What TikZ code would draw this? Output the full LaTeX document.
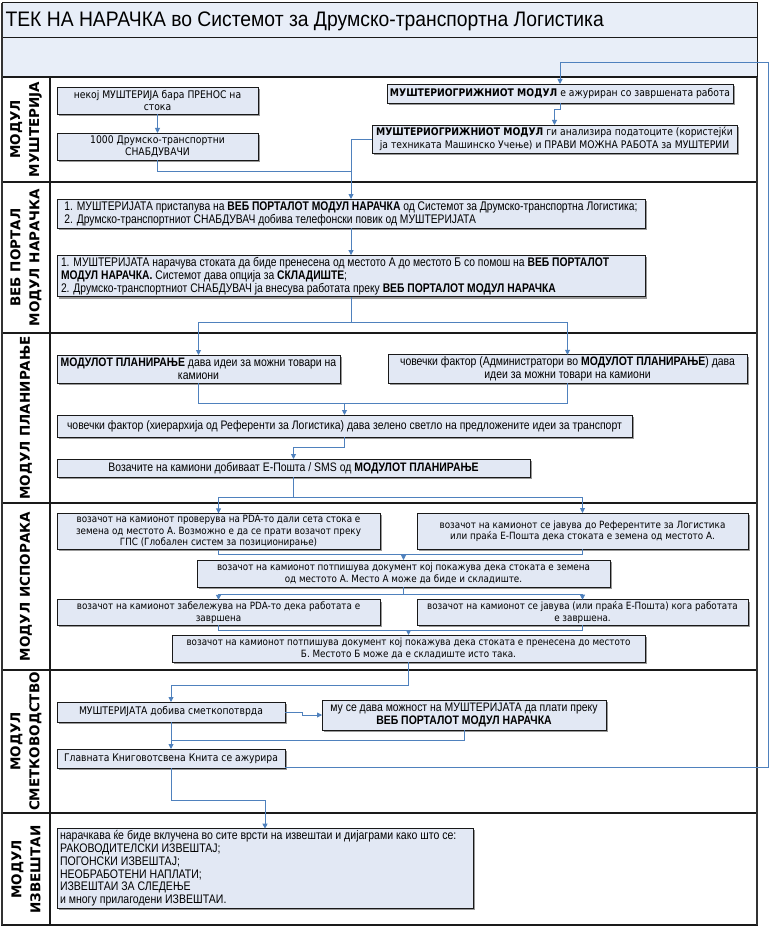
\documentclass[tikz,border=0pt]{standalone}
\usepackage{fontspec}
\setmainfont{DejaVu Sans}
\newfontfamily\tah{DejaVu Sans}[FakeStretch=0.88]
\newfontfamily\cnd{Liberation Sans}[FakeStretch=0.85]
\newfontfamily\cndw{Liberation Sans}[FakeStretch=0.825]
\newfontfamily\ttl{Liberation Sans}[FakeStretch=0.92]
\usetikzlibrary{arrows.meta,shadows}
\definecolor{boxfill}{HTML}{E2E8F4}
\definecolor{headfill}{HTML}{E8EEF8}
\definecolor{conncol}{HTML}{4F81BD}
\definecolor{framecol}{HTML}{1A1A1A}
\tikzset{
 box/.style={draw=black!90, fill=boxfill, line width=0.8pt, inner sep=2pt, outer sep=0pt,
   drop shadow={shadow xshift=1.8pt, shadow yshift=-1.8pt, fill=black!40, opacity=1}},
 tbox/.style={box, font=\tah\fontsize{10.5}{12.5}\selectfont, align=center},
 dbox/.style={box, font=\tah\fontsize{10}{11.5}\selectfont, align=center},
 cbox/.style={box, font=\cnd\fontsize{12.3}{13}\selectfont, align=center},
 lbox/.style={box, font=\cndw\fontsize{12.5}{13}\selectfont, align=left},
 conn/.style={draw=conncol, line width=0.9pt, -{Triangle[length=5pt,width=5pt]}},
 cline/.style={draw=conncol, line width=0.9pt},
 lane/.style={draw=framecol, line width=1.4pt},
 lanelbl/.style={font=\bfseries\fontsize{13.5}{19}\selectfont, rotate=90, align=center},
}
\newcommand\bx[7][]{\node[#1,minimum width={#5-#3},minimum height={#6-#4}] (#2) at ({(#3+#5)/2},{(#4+#6)/2}) {#7};}
\begin{document}
\begin{tikzpicture}[x=1pt,y=-1pt]
\useasboundingbox (0,0) rectangle (769,928);
% header
\fill[headfill] (2,3) rectangle (757,77);
\draw[lane, line width=1pt] (2,3) rectangle (757,77);
\draw[lane, line width=1pt] (2,38) -- (757,38);
\node[anchor=west, font=\ttl\fontsize{21}{24}\selectfont] (title) at (2,21) {ТЕК НА НАРАЧКА во Системот за Друмско-транспортна Логистика};
% lanes
\fill[white] (2,77) rectangle (757,925);
\draw[lane] (2,77) rectangle (757,925);
\draw[lane] (50,77) -- (50,925);
\foreach \yy in {182,333,503,670,813} { \draw[lane] (2,\yy) -- (757,\yy); }
\draw[draw=black!80, line width=2.6pt] (757,77) -- (757,925);
\draw[draw=black!80, line width=2.6pt] (2,3) -- (2,925);
\node[lanelbl] (L1) at (26,129.5) {МОДУЛ\\МУШТЕРИЈА};
\node[lanelbl] (L2) at (26,257.5) {ВЕБ ПОРТАЛ\\МОДУЛ НАРАЧКА};
\node[lanelbl] (L3) at (26,418) {МОДУЛ ПЛАНИРАЊЕ};
\node[lanelbl] (L4) at (26,586.5) {МОДУЛ ИСПОРАКА};
\node[lanelbl] (L5) at (26,741.5) {МОДУЛ\\СМЕТКОВОДСТВО};
\node[lanelbl] (L6) at (26,869.5) {МОДУЛ\\ИЗВЕШТАИ};
% lane 1
\bx[tbox]{A}{57}{87}{258}{114}{некој МУШТЕРИЈА бара ПРЕНОС на\\стока}
\bx[tbox]{B}{57}{133}{258}{160}{1000 Друмско-транспортни\\СНАБДУВАЧИ}
\bx[tbox]{C}{387}{84}{733}{103}{\textbf{МУШТЕРИОГРИЖНИОТ МОДУЛ} е ажуриран со завршената работа}
\bx[tbox]{D}{372}{125}{737}{153}{\textbf{МУШТЕРИОГРИЖНИОТ МОДУЛ} ги анализира податоците (користејќи\\ја техниката Машинско Учење) и ПРАВИ МОЖНА РАБОТА за МУШТЕРИИ}
% lane 2
\bx[lbox]{W1}{57}{199}{645}{228}{1. МУШТЕРИЈАТА пристапува на \textbf{ВЕБ ПОРТАЛОТ МОДУЛ НАРАЧКА} од Системот за Друмско-транспортна Логистика;\\2. Друмско-транспортниот СНАБДУВАЧ добива телефонски повик од МУШТЕРИЈАТА}
\bx[lbox,text width=580pt,align=flush left]{W2}{57}{258}{645}{294}{1. МУШТЕРИЈАТА нарачува стоката да биде пренесена од местото А до местото Б со помош на \textbf{ВЕБ ПОРТАЛОТ}\\\textbf{МОДУЛ НАРАЧКА.} Системот дава опција за \textbf{СКЛАДИШТЕ};\\2. Друмско-транспортниот СНАБДУВАЧ ја внесува работата преку \textbf{ВЕБ ПОРТАЛОТ МОДУЛ НАРАЧКА}}
% lane 3
\bx[cbox]{P1}{57}{355}{340}{383}{\textbf{МОДУЛОТ ПЛАНИРАЊЕ} дава идеи за можни товари на\\камиони}
\bx[cbox]{P2}{388}{355}{747}{383}{човечки фактор (Администратори во \textbf{МОДУЛОТ ПЛАНИРАЊЕ}) дава\\идеи за можни товари на камиони}
\bx[cbox]{P3}{57}{415}{632}{437}{човечки фактор (хиерархија од Референти за Логистика) дава зелено светло на предложените идеи за транспорт}
\bx[cbox]{P4}{57}{459}{530}{477}{Возачите на камиони добиваат Е-Пошта / SMS од \textbf{МОДУЛОТ ПЛАНИРАЊЕ}}
% lane 4
\bx[dbox]{D1}{57}{514}{380}{549}{возачот на камионот проверува на PDA-то дали сета стока е\\земена од местото А. Возможно е да се прати возачот преку\\ГПС (Глобален систем за позиционирање)}
\bx[dbox]{D2}{417}{513}{748}{549}{возачот на камионот се јавува до Референтите за Логистика\\или праќа Е-Пошта дека стоката е земена од местото А.}
\bx[dbox]{D3}{197}{560}{610}{587}{возачот на камионот потпишува документ кој покажува дека стоката е земена\\од местото А. Место А може да биде и складиште.}
\bx[dbox]{D4}{57}{600}{380}{625}{возачот на камионот забележува на PDA-то дека работата е\\завршена}
\bx[dbox]{D6}{417}{600}{748}{625}{возачот на камионот се јавува (или праќа Е-Пошта) кога работата\\е завршена.}
\bx[dbox]{D5}{172}{635}{645}{662}{возачот на камионот потпишува документ кој покажува дека стоката е пренесена до местото\\Б. Местото Б може да е складиште исто така.}
% lane 5
\bx[tbox]{A1}{57}{702}{285}{722}{МУШТЕРИЈАТА добива сметкопотврда}
\bx[cbox]{A2}{322}{700}{606}{730}{му се дава можност на МУШТЕРИЈАТА да плати преку\\\textbf{ВЕБ ПОРТАЛОТ МОДУЛ НАРАЧКА}}
\bx[tbox]{A3}{57}{749}{285}{768}{Главната Книговотсвена Книта се ажурира}
% lane 6
\bx[lbox,font=\cnd\fontsize{12.4}{12.8}\selectfont,text width=410pt,align=flush left]{R}{57}{829}{473}{908}{нарачкава ќе биде вклучена во сите врсти на извештаи и дијаграми како што се:\\РАКОВОДИТЕЛСКИ ИЗВЕШТАЈ;\\ПОГОНСКИ ИЗВЕШТАЈ;\\НЕОБРАБОТЕНИ НАПЛАТИ;\\ИЗВЕШТАИ ЗА СЛЕДЕЊЕ\\и многу прилагодени ИЗВЕШТАИ.}
% connectors lane 1
\draw[conn] (A.south) -- (B.north);
\coordinate (j1) at (W1.north |- 0,171);
\draw[cline] (B.south) |- (j1);
\draw[conn] (D.west) -| (W1.north);
\draw[conn] (C.south) -- ++(0,6) -| (D.north);
\coordinate (fb1) at (768,767);
\coordinate (fb2) at (768,62);
\draw[conn] (A3.east |- fb1) -- (fb1) -- (fb2) -| (C.north);
% lane 2
\draw[conn] (W1.south) -- (W2.north);
\coordinate (s1) at (W2.south |- 0,322);
\draw[conn] (W2.south) -- (s1) -| (P1.north);
\draw[conn] (s1) -| (P2.north);
% lane 3
\coordinate (s2) at (P3.north |- 0,403);
\draw[conn] (P1.south) |- (s2) -- (P3.north);
\draw[cline] (P2.south) |- (s2);
\draw[conn] (P3.south) -- ++(0,10) -| (P4.north);
\coordinate (s3) at (P4.south |- 0,497);
\draw[conn] (P4.south) -- (s3) -| (D1.north);
\draw[conn] (s3) -| (D2.north);
% lane 4
\coordinate (s4) at (D3.north |- 0,554);
\draw[conn] (D1.south) |- (s4) -- (D3.north);
\draw[cline] (D2.south) |- (s4);
\coordinate (s5) at (D3.south |- 0,594);
\draw[conn] (D3.south) -- (s5) -| (D4.north);
\draw[conn] (s5) -| (D6.north);
\coordinate (s6) at (D5.north |- 0,630);
\draw[conn] (D4.south) |- (s6) -- (D5.north);
\draw[cline] (D6.south) |- (s6);
\draw[conn] (D5.south) -- ++(0,23) -| (A1.north);
% lane 5
\draw[conn] (A1.east) -- ++(17,0) |- (A2.west);
\draw[conn] (A1.south) -- (A3.north);
\draw[cline] (A2.south) |- (A1.south |- 0,740);
\draw[conn] (A3.south) -- ++(0,32) -| (R.north);
\end{tikzpicture}
\end{document}
